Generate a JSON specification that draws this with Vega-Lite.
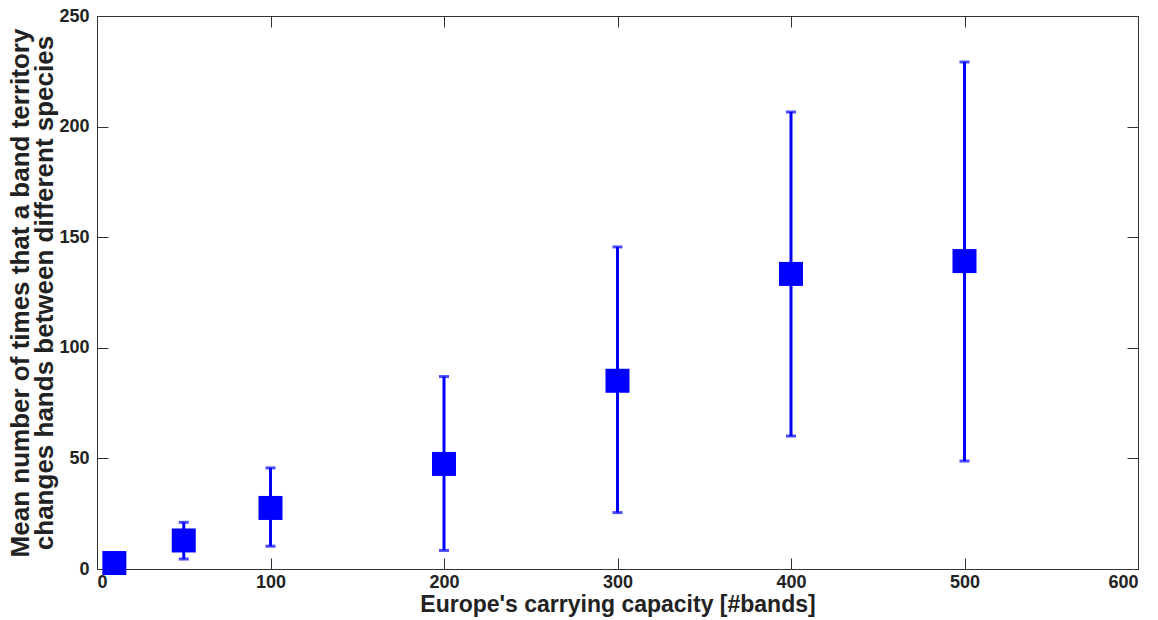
{
  "$schema": "https://vega.github.io/schema/vega-lite/v6.json",
  "width": 1041,
  "height": 553,
  "autosize": "none",
  "padding": {"left": 97, "top": 16, "right": 20, "bottom": 51},
  "background": "white",
  "config": {
    "view": {"stroke": "#333333", "strokeWidth": 1},
    "axis": {
      "grid": false,
      "domain": false,
      "tickSize": -11,
      "tickColor": "#333333",
      "labelFont": "Liberation Sans",
      "labelFontWeight": "bold",
      "labelFontSize": 18,
      "labelColor": "#222222",
      "titleFont": "Liberation Sans",
      "titleFontWeight": "bold",
      "titleFontSize": 23,
      "titleColor": "#222222"
    }
  },
  "data": {
    "values": [
      {"k": 10, "mean": 2.7, "lo": 2.7, "hi": 2.7},
      {"k": 50, "mean": 12.9, "lo": 4.5, "hi": 21.1},
      {"k": 100, "mean": 27.6, "lo": 10.3, "hi": 45.7},
      {"k": 200, "mean": 47.5, "lo": 8.4, "hi": 87},
      {"k": 300, "mean": 85.1, "lo": 25.5, "hi": 145.6},
      {"k": 400, "mean": 133.4, "lo": 60.1, "hi": 206.6},
      {"k": 500, "mean": 139.2, "lo": 48.8, "hi": 229.2}
    ]
  },
  "layer": [
    {
      "mark": {"type": "rule", "color": "#0000ff", "strokeWidth": 3},
      "encoding": {
        "x": {"field": "k", "type": "quantitative", "scale": {"domain": [0, 600], "nice": false},
              "axis": {"values": [0, 100, 200, 300, 400, 500, 600], "title": "Europe's carrying capacity [#bands]", "labelPadding": 15, "titlePadding": 2}},
        "y": {"field": "lo", "type": "quantitative", "scale": {"domain": [0, 250], "nice": false},
              "axis": {"values": [0, 50, 100, 150, 200, 250], "title": ["Mean number of times that a band territory", "changes hands between different species"], "labelPadding": 19, "titlePadding": 1, "titleFontSize": 26, "titleLineHeight": 24}},
        "y2": {"field": "hi"}
      }
    },
    {
      "mark": {"type": "tick", "color": "#0000ff", "thickness": 3, "size": 10, "orient": "horizontal"},
      "encoding": {
        "x": {"field": "k", "type": "quantitative", "scale": {"domain": [0, 600], "nice": false},
              "axis": {"orient": "top", "values": [0, 100, 200, 300, 400, 500, 600], "labels": false, "title": null}},
        "y": {"field": "lo", "type": "quantitative", "scale": {"domain": [0, 250], "nice": false},
              "axis": {"orient": "right", "values": [0, 50, 100, 150, 200, 250], "labels": false, "title": null}}
      }
    },
    {
      "mark": {"type": "tick", "color": "#0000ff", "thickness": 3, "size": 10, "orient": "horizontal"},
      "encoding": {
        "x": {"field": "k", "type": "quantitative", "axis": null},
        "y": {"field": "hi", "type": "quantitative", "axis": null}
      }
    },
    {
      "mark": {"type": "square", "color": "#0000ff", "filled": true, "opacity": 1, "size": 576},
      "encoding": {
        "x": {"field": "k", "type": "quantitative", "axis": null},
        "y": {"field": "mean", "type": "quantitative", "axis": null}
      }
    }
  ],
  "resolve": {"axis": {"x": "independent", "y": "independent"}}
}
